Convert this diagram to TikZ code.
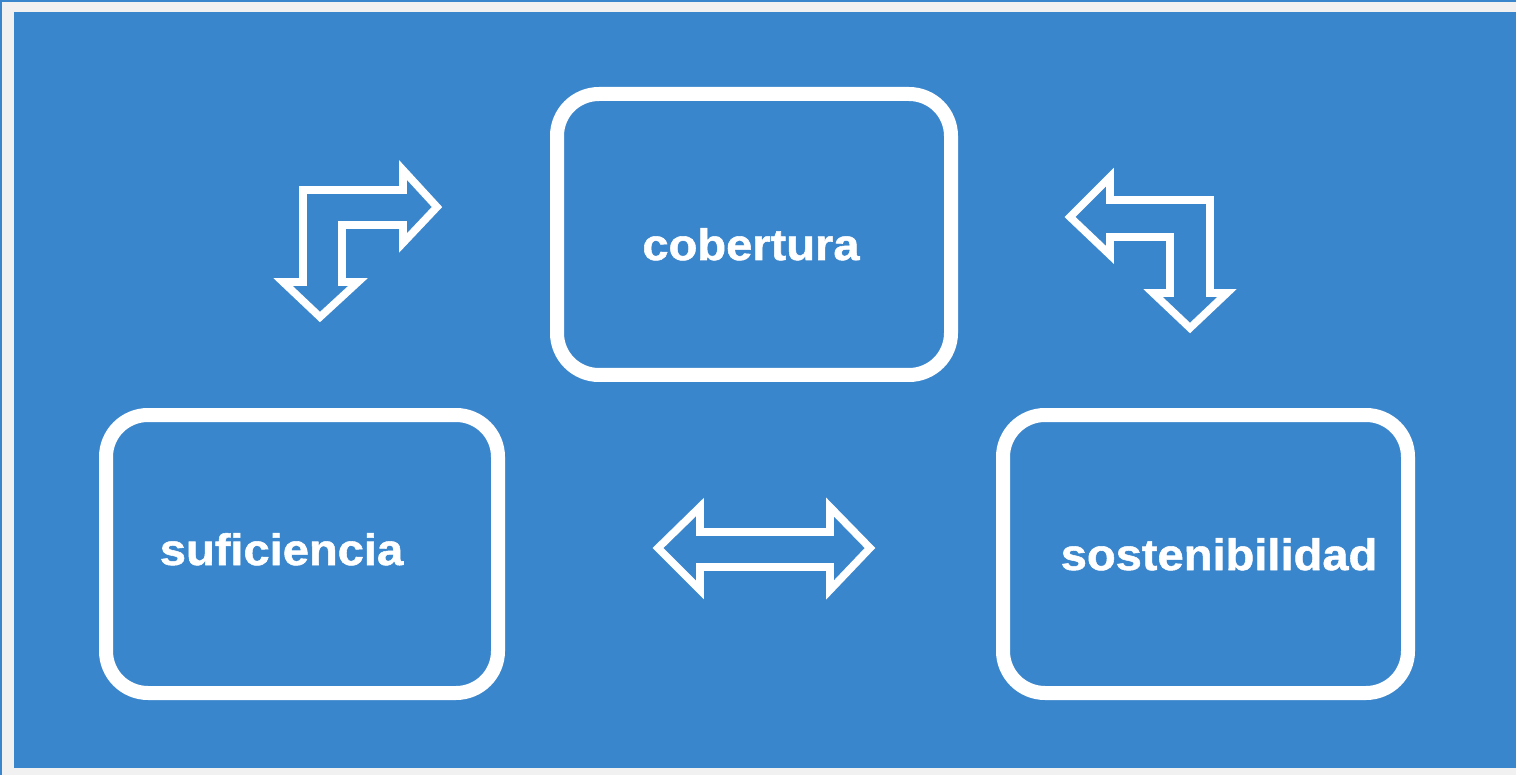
\documentclass[tikz,border=0pt]{standalone}
\usepackage{fontspec}
\setmainfont{Liberation Sans}
\newfontfamily\widefont[FakeStretch=1.07, FakeBold=1.2]{Liberation Sans Bold}
\usepackage{xcolor}
\usetikzlibrary{positioning}

\definecolor{bgblue}{RGB}{58,134,204}
\definecolor{margingray}{RGB}{241,241,241}

\tikzset{
	box/.style={draw=white, line width=7pt, rounded corners=21pt, inner sep=0pt},
	label/.style={text=white, font=\widefont\fontsize{22}{26}\selectfont, inner sep=0pt, anchor=base},
	blockarrow/.style={draw=white, line width=3.8pt, line join=miter, fill=bgblue}
}

\begin{document}
\begin{tikzpicture}[x=0.5pt, y=-0.5pt]
		%page size and background
		\useasboundingbox (0,0) rectangle (1516,775);
		\fill [margingray] (0,0) rectangle (1516,775);
		\draw [bgblue, line width=1.2pt] (1,775) -- (1,1) -- (1516,1);
		\fill [bgblue] (14,12) rectangle (1516,768);
		
		%boxes
		\node [box, minimum width=197pt, minimum height=140.5pt] (cobertura) at (754,234.5) {};
		\node [box, minimum width=196pt, minimum height=139pt] (suficiencia) at (302,554) {};
		\node [box, minimum width=202.5pt, minimum height=139pt] (sostenibilidad) at (1205.5,554) {};
		
		%texts
		\node [label] (cobertura text) at (751,260) {cobertura};
		\node [label] (suficiencia text) at (281.5,565) {suficiencia};
		\node [label] (sostenibilidad text) at (1219,570) {sostenibilidad};
		
		%bent arrow between suficiencia and cobertura
		\draw [blockarrow] (283,282) -- (303,282) -- (303,190) -- (403,190) -- (403,170) -- (437,207)
			-- (403,243) -- (403,225) -- (342,225) -- (342,282) -- (358,282) -- (320,317) -- cycle;
		
		%bent arrow between cobertura and sostenibilidad
		\draw [blockarrow] (1070,217) -- (1110,177) -- (1110,200) -- (1210,200) -- (1210,293) -- (1227,293)
			-- (1190,328) -- (1153,293) -- (1170,293) -- (1170,237) -- (1110,237) -- (1110,255) -- cycle;
		
		%double arrow between suficiencia and sostenibilidad
		\draw [blockarrow] (658,548) -- (700,507) -- (700,532) -- (830,532) -- (830,507) -- (870,548)
			-- (830,590) -- (830,567) -- (700,567) -- (700,590) -- cycle;
	\end{tikzpicture}
\end{document}
